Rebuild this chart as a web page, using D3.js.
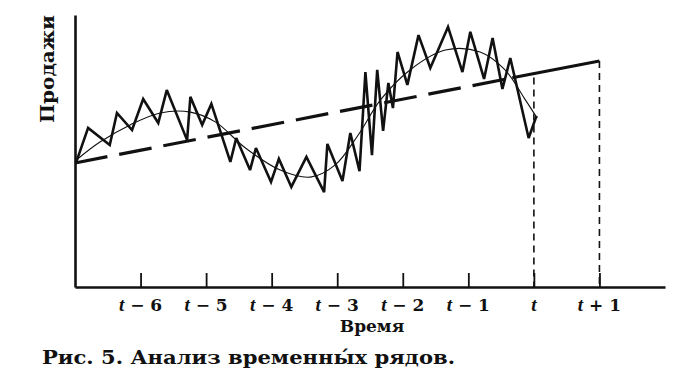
<!DOCTYPE html>
<html lang="ru">
<head>
    <meta charset="UTF-8">
    <title>Анализ временных рядов</title>
    <script src="https://d3js.org/d3.v7.min.js"></script>
    <style>
        body { margin: 0; background: #fff; }
        text { font-family: "DejaVu Serif", "Liberation Serif", serif; fill: #111; }
    </style>
</head>
<body>
    <svg width="691" height="387"></svg>
    <script>
        // periods relative to t, sales in arbitrary units
        var tickPeriods = [-6, -5, -4, -3, -2, -1, 0, 1];
        var tickLabels = ["6", "5", "4", "3", "2", "1", "", "1"];
        var tickSigns = ["−", "−", "−", "−", "−", "−", "", "+"];

        var salesTime = [-6.98, -6.80, -6.47, -6.36, -6.13, -5.96, -5.73, -5.60, -5.29, -5.24,
                         -5.06, -4.92, -4.63, -4.54, -4.33, -4.24, -4.01, -3.89, -3.70, -3.47,
                         -3.20, -3.15, -2.92, -2.80, -2.66, -2.57, -2.47, -2.39, -2.30, -2.22,
                         -2.15, -2.08, -1.93, -1.76, -1.58, -1.31, -1.09, -0.97, -0.76, -0.63,
                         -0.48, -0.36, -0.08, 0.04];
        var salesValue = [46.0, 58.5, 52.2, 64.0, 57.7, 69.1, 60.3, 72.4, 54.0, 69.9,
                          59.6, 67.3, 46.0, 54.8, 43.0, 51.1, 38.6, 47.1, 36.8, 47.8,
                          34.9, 52.6, 39.0, 56.6, 42.6, 79.0, 48.5, 79.8, 57.4, 75.0,
                          65.8, 86.4, 74.3, 92.6, 80.5, 95.6, 79.0, 93.8, 76.5, 91.5,
                          72.8, 84.2, 54.8, 62.9];

        // smoothed trend + cycle
        var cycleTime = [-6.98, -6.62, -6.16, -5.70, -5.24, -4.86, -4.40, -3.87, -3.41,
                         -3.03, -2.68, -2.34, -1.89, -1.35, -0.82, -0.44, -0.13, 0.05];
        var cycleValue = [46.7, 53.3, 59.6, 64.0, 64.3, 60.7, 51.1, 43.0, 40.4,
                          44.9, 55.9, 68.8, 79.8, 87.1, 86.4, 79.8, 68.8, 62.1];

        var trendTime = [-7, -0.33, 1];
        var trendValue = [45.6, 76.9, 83.1];

        var forecastTime = [0, 1];
        var forecastTop = [77, 83.1];

        var svg = d3.select("svg");
        var x = d3.scaleLinear().domain([-7, 2]).range([75, 665]);
        var y = d3.scaleLinear().domain([0, 100]).range([287, 15]);

        var line = d3.line()
            .x(function(d) { return x(d[0]); })
            .y(function(d) { return y(d[1]); });

        // vertical dashed guides
        svg.selectAll(".guide")
            .data(forecastTime)
            .enter().append("line")
            .attr("x1", function(d) { return x(d); })
            .attr("x2", function(d) { return x(d); })
            .attr("y1", function(d, i) { return y(forecastTop[i]); })
            .attr("y2", y(0))
            .attr("stroke", "#111")
            .attr("stroke-width", 1.6)
            .attr("stroke-dasharray", "7,5");

        // axes
        var xAxis = d3.axisBottom(x)
            .tickValues(tickPeriods)
            .tickSizeInner(-14)
            .tickSizeOuter(0)
            .tickFormat("");
        var gx = svg.append("g")
            .attr("transform", "translate(0," + y(0) + ")")
            .call(xAxis);
        gx.select(".domain").attr("stroke", "#111").attr("stroke-width", 2.6);
        gx.selectAll(".tick line").attr("stroke", "#111").attr("stroke-width", 1.8);

        var yAxis = d3.axisLeft(y).tickValues([]).tickSizeOuter(0);
        var gy = svg.append("g")
            .attr("transform", "translate(" + x(-7) + ",0)")
            .call(yAxis);
        gy.select(".domain").attr("stroke", "#111").attr("stroke-width", 2.6);

        // tick labels "t − n"
        var lab = svg.selectAll(".tlab")
            .data(tickPeriods)
            .enter().append("text")
            .attr("x", function(d) { return x(d); })
            .attr("y", 311)
            .attr("text-anchor", "middle")
            .style("font-size", "17px")
            .style("font-weight", "bold");
        lab.append("tspan")
            .style("font-style", "italic")
            .style("font-family", "Liberation Serif")
            .style("font-size", "19px")
            .text("t");
        lab.append("tspan")
            .text(function(d, i) { return tickSigns[i] ? " " + tickSigns[i] + " " + tickLabels[i] : ""; });

        svg.append("text")
            .attr("x", 372).attr("y", 332)
            .attr("text-anchor", "middle")
            .style("font-size", "17px")
            .style("font-weight", "bold")
            .text("Время");

        svg.append("text")
            .attr("transform", "translate(54,69) rotate(-90)")
            .attr("text-anchor", "middle")
            .attr("textLength", 108)
            .attr("lengthAdjust", "spacingAndGlyphs")
            .style("font-size", "19px")
            .style("font-weight", "bold")
            .text("Продажи");

        svg.append("text")
            .attr("x", 42).attr("y", 364)
            .attr("textLength", 413)
            .attr("lengthAdjust", "spacingAndGlyphs")
            .style("font-size", "18px")
            .style("font-weight", "bold")
            .text("Рис. 5. Анализ временны\u0301х рядов.");

        // trend: dashed over the past, solid for the forecast
        svg.append("path")
            .datum([[trendTime[0], trendValue[0]], [trendTime[1], trendValue[1]]])
            .attr("d", line)
            .attr("fill", "none")
            .attr("stroke", "#111")
            .attr("stroke-width", 3.2)
            .attr("stroke-dasharray", "33,12");
        svg.append("path")
            .datum([[trendTime[1], trendValue[1]], [trendTime[2], trendValue[2]]])
            .attr("d", line)
            .attr("fill", "none")
            .attr("stroke", "#111")
            .attr("stroke-width", 3);

        // smoothed cycle
        svg.append("path")
            .datum(d3.zip(cycleTime, cycleValue))
            .attr("d", line.curve(d3.curveCatmullRom))
            .attr("fill", "none")
            .attr("stroke", "#111")
            .attr("stroke-width", 1.1);
        line.curve(d3.curveLinear);

        // actual sales
        svg.append("path")
            .datum(d3.zip(salesTime, salesValue))
            .attr("d", line)
            .attr("fill", "none")
            .attr("stroke", "#111")
            .attr("stroke-width", 2.6)
            .attr("stroke-linejoin", "miter")
            .attr("stroke-miterlimit", 3);
    </script>
</body>
</html>
